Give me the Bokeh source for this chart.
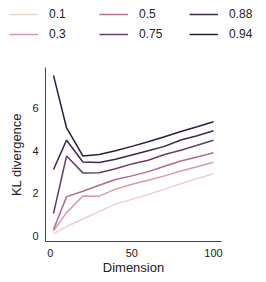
import numpy as np
from bokeh.plotting import figure
from bokeh.layouts import column
from bokeh.models import Legend, LegendItem, FixedTicker, Range1d
from bokeh.embed import file_html
from bokeh.resources import INLINE

dims = [2, 10, 20, 30, 40, 50, 60, 70, 80, 90, 100]
levels = [0.1, 0.3, 0.5, 0.75, 0.88, 0.94]
kl_01 = [0.12, 0.45, 0.80, 1.15, 1.50, 1.72, 1.95, 2.20, 2.45, 2.70, 2.92]
kl_03 = [0.25, 1.10, 1.88, 1.87, 2.20, 2.43, 2.62, 2.82, 3.05, 3.25, 3.46]
kl_05 = [0.31, 1.85, 2.10, 2.38, 2.65, 2.82, 3.02, 3.27, 3.52, 3.70, 3.90]
kl_075 = [1.06, 3.75, 2.96, 2.97, 3.15, 3.38, 3.55, 3.82, 4.02, 4.25, 4.49]
kl_088 = [3.12, 4.49, 3.47, 3.45, 3.60, 3.80, 4.00, 4.20, 4.50, 4.70, 4.93]
kl_094 = [7.52, 5.06, 3.75, 3.82, 4.00, 4.20, 4.42, 4.65, 4.90, 5.12, 5.35]
series = [kl_01, kl_03, kl_05, kl_075, kl_088, kl_094]
labels = ["0.1", "0.3", "0.5", "0.75", "0.88", "0.94"]


def cubehelix(x, start=0.0, rot=0.4, gamma=1.0, hue=0.8):
    xg = x ** gamma
    a = hue * xg * (1 - xg) / 2
    phi = 2 * np.pi * (start / 3 + rot * x)
    r = xg + a * (-0.14861 * np.cos(phi) + 1.78277 * np.sin(phi))
    g = xg + a * (-0.29227 * np.cos(phi) - 0.90649 * np.sin(phi))
    b = xg + a * (1.97294 * np.cos(phi))
    rgb = [int(round(min(max(c, 0), 1) * 255)) for c in (r, g, b)]
    return "#%02x%02x%02x" % tuple(rgb)


lo, hi = min(levels), max(levels)
colors = [cubehelix(0.85 + (lv - lo) / (hi - lo) * (0.15 - 0.85)) for lv in levels]

FONT = "Liberation Sans"

# ---- main chart ----
p = figure(width=266, height=222, output_backend="svg", toolbar_location=None,
           x_range=Range1d(-2.9, 104.9), y_range=Range1d(-0.25, 7.89),
           min_border_left=45, min_border_right=45, min_border_bottom=41,
           min_border_top=7)
p.outline_line_color = None
p.grid.visible = False
p.background_fill_color = "white"

for ys, c in zip(series, colors):
    p.line(dims, ys, line_color=c, line_width=1.5)

for ax in (p.xaxis[0], p.yaxis[0]):
    ax.major_tick_in = 0
    ax.major_tick_out = 0
    ax.minor_tick_in = 0
    ax.minor_tick_out = 0
    ax.axis_line_color = "#444444"
    ax.axis_line_width = 1
    ax.major_label_text_font = FONT
    ax.major_label_text_font_size = "11px"
    ax.major_label_text_color = "#222222"
    ax.axis_label_text_font = FONT
    ax.axis_label_text_font_size = "13px"
    ax.axis_label_text_font_style = "normal"
    ax.axis_label_text_color = "#222222"
    ax.major_label_standoff = 7

p.xaxis[0].ticker = FixedTicker(ticks=[0, 50, 100])
p.yaxis[0].ticker = FixedTicker(ticks=[0, 2, 4, 6])
p.xaxis[0].axis_label = "Dimension"
p.yaxis[0].axis_label = "KL divergence"
p.xaxis[0].axis_label_standoff = 0
p.yaxis[0].axis_label_standoff = 5

# ---- legend strip (series drawn outside its visible range, only the legend shows) ----
lf = figure(width=266, height=60, output_backend="svg", toolbar_location=None,
            x_range=Range1d(1000, 1001), y_range=Range1d(1000, 1001),
            x_axis_type=None, y_axis_type=None, title=None,
            min_border_left=0, min_border_right=0, min_border_top=0,
            min_border_bottom=0)
lf.outline_line_color = None
lf.grid.visible = False
legend_renderers = [lf.line(dims, ys, line_color=c, line_width=1.5)
                    for ys, c in zip(series, colors)]

# do not align the legend strip's frame with the chart's frame
try:
    lf.frame_align = False
    p.frame_align = False
except Exception:
    pass

order = [0, 2, 4, 1, 3, 5]
items = [LegendItem(label=labels[i], renderers=[legend_renderers[i]]) for i in order]
legend = Legend(items=items, orientation="horizontal", ncols=3,
                border_line_color=None, background_fill_alpha=0,
                label_text_font=FONT, label_text_font_size="12px",
                label_text_color="#222222",
                glyph_width=29, glyph_height=14, label_height=14,
                label_width=44, label_standoff=11, spacing=6,
                padding=0, margin=0, location=(9, 19))
lf.add_layout(legend, "center")

layout = column(lf, p, spacing=0)
open("out.html", "w").write(file_html(layout, INLINE))
